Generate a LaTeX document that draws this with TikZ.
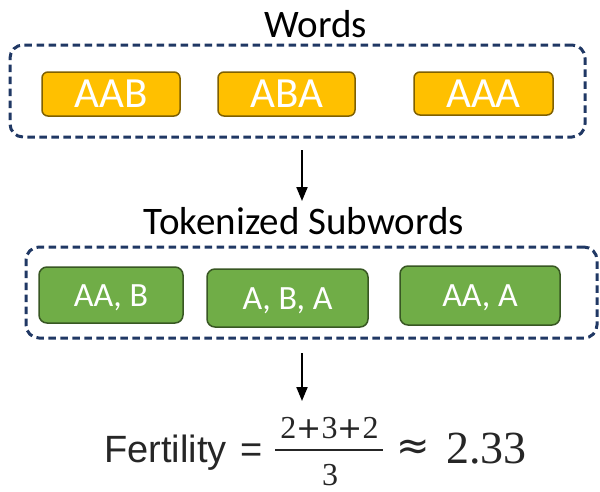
\documentclass[tikz,border=0pt]{standalone}
\usepackage{fontspec}
\newfontfamily\calib{Carlito}
\newfontfamily\arialf{Liberation Sans}
\newfontfamily\serifd{Liberation Serif}
\newfontfamily\dejav{DejaVu Sans}
\usetikzlibrary{arrows.meta}
\definecolor{navy}{HTML}{203864}
\definecolor{orfill}{HTML}{FFC000}
\definecolor{ordraw}{HTML}{7F6000}
\definecolor{grfill}{HTML}{70AD47}
\definecolor{grdraw}{HTML}{385723}
\definecolor{ink}{HTML}{262626}
\newcommand{\plusop}{{\dejav\fontsize{30}{30}\selectfont +}}
\begin{document}
\begin{tikzpicture}[x=1pt,y=-1pt,
  groupbox/.style={draw=navy, line width=3pt, dash pattern=on 7.5pt off 4.5pt,
    rounded corners=13pt, inner sep=0pt},
  wordbox/.style={draw=ordraw, fill=orfill, line width=1.5pt, rounded corners=6pt,
    text=white, inner sep=0pt, font=\calib\fontsize{43}{43}\selectfont,
    text height=27.5pt, text depth=0pt},
  subbox/.style={draw=grdraw, fill=grfill, line width=1.5pt, rounded corners=8pt,
    text=white, inner sep=0pt, font=\calib\fontsize{34}{34}\selectfont,
    text height=22pt, text depth=0pt},
  title/.style={inner sep=0pt, anchor=base, font=\calib\fontsize{39}{39}\selectfont},
  arr/.style={line width=2pt, -{Triangle[length=14pt,width=11pt]}},
  form/.style={inner sep=0pt, anchor=base, text=ink}
]
\useasboundingbox (0,0) rectangle (600,491);
\fill[white] (0,0) rectangle (600,491);

% Words group
\node[title] (wtitle) at (316,37) {Words};
\node[groupbox, minimum width=575pt, minimum height=92pt] (g1) at (297.5,91) {};
\node[wordbox, minimum width=138pt, minimum height=44pt] (w1) at (111,94) {AAB};
\node[wordbox, minimum width=137pt, minimum height=44pt] (w2) at (286.5,94) {ABA};
\node[wordbox, minimum width=139pt, minimum height=43pt] (w3) at (483.5,93.5) {AAA};

% Tokenized group
\node[title] (ttitle) at (304,234) {Tokenized Subwords};
\node[groupbox, minimum width=571pt, minimum height=91pt] (g2) at (311.5,292.5) {};
\node[subbox, minimum width=144pt, minimum height=56pt] (s1) at (111,295) {AA, B};
\node[subbox, minimum width=161pt, minimum height=58pt] (s2) at (287.5,298) {A, B, A};
\node[subbox, minimum width=160pt, minimum height=59pt] (s3) at (480,295.5) {AA, A};

% arrows
\coordinate (a1s) at (302,150);
\coordinate (a1e) at (302,201);
\coordinate (a2s) at (302,353);
\coordinate (a2e) at (302,401);
\draw[arr] (a1s) -- (a1e);
\draw[arr] (a2s) -- (a2e);

% formula
\node[form, font=\arialf\fontsize{38}{38}\selectfont] (fert) at (165.5,462) {Fertility};
\node[form, font=\arialf\fontsize{38}{38}\selectfont] (eq) at (251.5,462) {=};
\node[form, font=\serifd\fontsize{32}{32}\selectfont] (num) at (329.5,438) {2\plusop3\plusop2};
\node[form, font=\serifd\fontsize{32}{32}\selectfont] (den) at (330,485) {3};
\draw[ink, line width=2.5pt] (275,450) -- (383,450);
\node[inner sep=0pt, text=ink, font=\dejav\fontsize{40}{40}\selectfont] (apx) at (413.5,450) {≈};
\node[form, font=\serifd\fontsize{46}{46}\selectfont] (val) at (486.5,463) {2.33};
\end{tikzpicture}
\end{document}
